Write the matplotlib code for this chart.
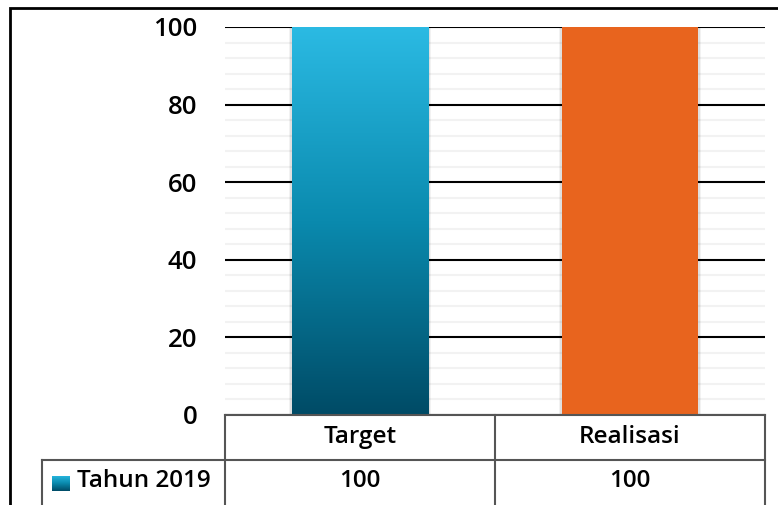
import numpy as np
import matplotlib.pyplot as plt
import matplotlib as mpl
from matplotlib.colors import LinearSegmentedColormap
from matplotlib.lines import Line2D
from matplotlib.patches import Rectangle

categories = ['Target', 'Realisasi']
values = [100, 100]
series_name = 'Tahun 2019'
yticks = [0, 20, 40, 60, 80, 100]

mpl.rcParams['font.family'] = ['Open Sans', 'DejaVu Sans']
W, H = 778, 505
fig = plt.figure(figsize=(W/100, H/100), dpi=100)

def fx(px):
    return px / W

def fy(py):
    return 1 - py / H

# outer border (runs past right/bottom edge like the screenshot crop)
fig.add_artist(Rectangle((fx(10), fy(H + 20)), fx(W + 40), fy(8) - fy(H + 20),
                         transform=fig.transFigure, fill=False, lw=2, ec='black'))

ax = fig.add_axes([fx(225), fy(415), fx(765) - fx(225), fy(27) - fy(415)])
ax.set_xlim(-0.5, 1.5)
ax.set_ylim(0, 100)
for s in ax.spines.values():
    s.set_visible(False)
ax.set_xticks([])
ax.set_yticks(yticks)
ax.set_yticklabels([str(t) for t in yticks], fontsize=18.5, fontweight='semibold')
ax.tick_params(axis='y', length=0, pad=20)
ax.set_yticks(np.arange(0, 101, 4), minor=True)
ax.tick_params(axis='y', which='minor', length=0)
ax.grid(True, which='minor', axis='y', color='#f2f2f2', lw=1.5)
ax.grid(True, which='major', axis='y', color='black', lw=1.5)
ax.set_axisbelow(True)

blue = LinearSegmentedColormap.from_list('blu', ['#004b66', '#0a8aae', '#2bbae3'])
x = np.arange(len(categories))
bw = 0.504

# soft shadow
for dx, a in [(0.012, 0.05), (0.006, 0.07)]:
    ax.bar(x, values, width=bw + 2 * dx, color='black', alpha=a, zorder=2)

bars = ax.bar(x, values, width=bw, color=['#0a8aae', '#e8641e'], zorder=3)
grad = np.linspace(0, 1, 256).reshape(-1, 1)
b = bars[0]
im = ax.imshow(grad, cmap=blue, origin='lower', aspect='auto', zorder=4,
               extent=(b.get_x(), b.get_x() + b.get_width(), 0, b.get_height()))
im.set_clip_path(b)
ax.set_xlim(-0.5, 1.5)
ax.set_ylim(0, 100)

# data table
lc = '#555555'
lw = 1.5
segs = [
    ((225, 415), (765, 415)),
    ((42, 460), (765, 460)),
    ((225, 415), (225, H + 5)),
    ((495, 415), (495, H + 5)),
    ((765, 415), (765, H + 5)),
    ((42, 460), (42, H + 5)),
]
for (x0, y0), (x1, y1) in segs:
    fig.add_artist(Line2D([fx(x0), fx(x1)], [fy(y0), fy(y1)],
                          transform=fig.transFigure, color=lc, lw=lw))

col_centers = [360, 630]
for cx, cat, v in zip(col_centers, categories, values):
    fig.text(fx(cx), fy(437), cat, ha='center', va='center',
             fontsize=17.5, fontweight='semibold')
    fig.text(fx(cx), fy(481), str(v), ha='center', va='center',
             fontsize=17.5, fontweight='semibold')

# legend key
kax = fig.add_axes([fx(52), fy(491), fx(70) - fx(52), fy(476) - fy(491)])
kax.imshow(grad, cmap=blue, origin='lower', aspect='auto')
kax.axis('off')
fig.text(fx(77), fy(481), series_name, ha='left', va='center',
         fontsize=17.5, fontweight='semibold')

fig.savefig('out.png', dpi=100)
